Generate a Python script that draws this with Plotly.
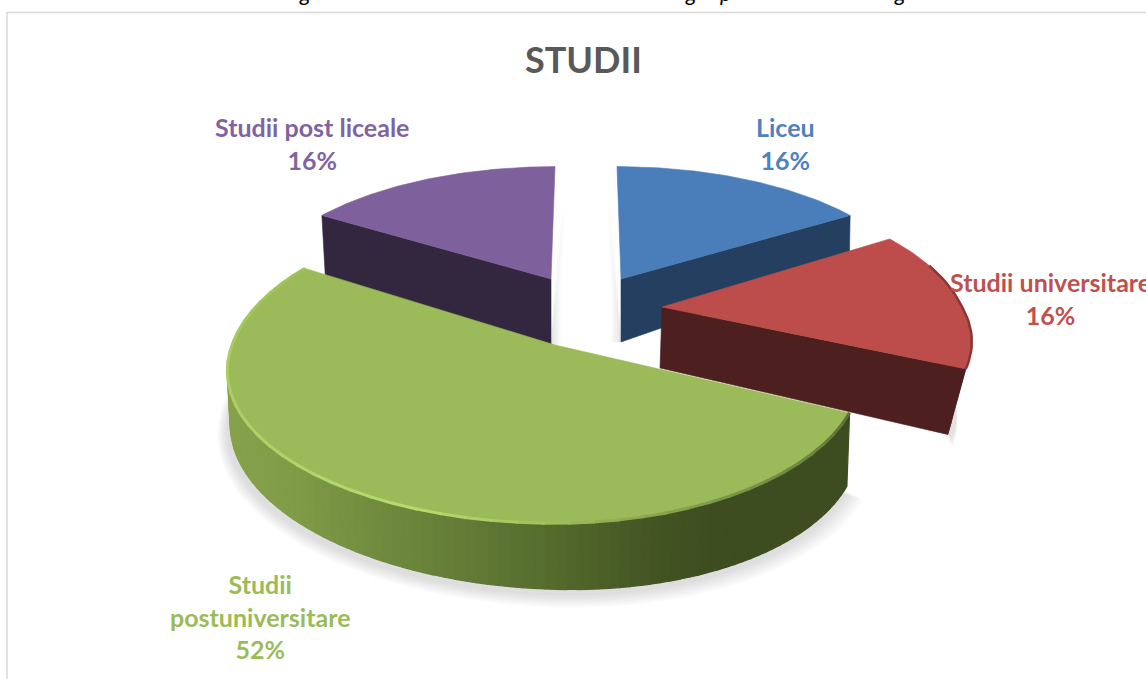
import math
import plotly.graph_objects as go

categories = ["Liceu", "Studii universitare", "Studii postuniversitare", "Studii post liceale"]
values = [16, 16, 52, 16]
title_text = "STUDII"
colors = ["#4a7eba", "#bd4d4a", "#9bba59", "#7e619c"]
text_colors = ["#4f81bd", "#c0504d", "#9bbb59", "#8064a2"]
wall_colors = ["#243f60", "#4d1f1f", "#3f5020", "#32273f"]
cropped_fragments = ["g", "g", "p", "g"]

W, H = 1146, 679
# per-slice projection: apex, half widths (right, left), depth (far, near), perspective,
# thickness terms, x-drift, lean of the far edge
geom = [
    dict(ax=621, ay=279, ar=293, al=293, bf=127, bn=127, q=0.13, h0=63, hu=-10, hv=-14, sx=-1, lean=-4),
    dict(ax=662, ay=307, ar=300, al=300, bf=144, bn=130, q=0.25, h0=61, hu=5, hv=0, sx=-20, lean=8),
    dict(ax=555, ay=345, ar=302, al=323, bf=156, bn=148, q=0.17, h0=63, hu=10, hv=-3, sx=-3, lean=0),
    dict(ax=551, ay=279, ar=293, al=293, bf=127, bn=127, q=0.13, h0=66, hu=2, hv=-8, sx=-4, lean=4),
]
label_pos = [(785, 128), (1050, 283), (260, 585), (312, 128)]
fragment_x = [305, 691, 726, 900]
green_stops = [(228, "#86a34c"), (300, "#7f9b47"), (380, "#708b3e"), (460, "#647c37"),
               (540, "#566e2e"), (600, "#4c6028"), (660, "#435423"), (720, "#3d4d20"), (850, "#3d4d20")]
bevel_stops = [(115, "#59703a"), (130, "#6a8340"), (150, "#7c9649"), (170, "#90ac54"),
               (185, "#a6c760"), (200, "#b7dc70"), (230, "#b0d468"), (270, "#a9cc60"), (302, "#9fc15b")]


def top(g, t):
    u, v = math.sin(t), math.cos(t)
    d = 1 + g["q"] * v
    a = g["ar"] if u >= 0 else g["al"]
    b = g["bf"] if v >= 0 else g["bn"]
    return g["ax"] + a * u / d + g["lean"] * max(v, 0), g["ay"] - b * v / d


def bottom(g, t):
    u, v = math.sin(t), math.cos(t)
    x, y = top(g, t)
    return x + g["sx"] * u, y + g["h0"] + g["hu"] * u + g["hv"] * v


def hex2(c):
    return [int(c[i:i + 2], 16) for i in (1, 3, 5)]


def grad(x, stops):
    if x <= stops[0][0]:
        return stops[0][1]
    for (x0, c0), (x1, c1) in zip(stops, stops[1:]):
        if x <= x1:
            f = (x - x0) / (x1 - x0)
            a, b = hex2(c0), hex2(c1)
            return "rgb(%d,%d,%d)" % tuple(a[i] + (b[i] - a[i]) * f for i in range(3))
    return stops[-1][1]


fig = go.Figure()


def poly(xs, ys, color, line=None, width=0.6):
    fig.add_trace(go.Scatter(x=xs, y=ys, mode="lines", fill="toself", fillcolor=color,
                             line=dict(color=line or color, width=width), hoverinfo="skip", showlegend=False))


def stroke(xs, ys, color, width):
    fig.add_trace(go.Scatter(x=xs, y=ys, mode="lines", line=dict(color=color, width=width),
                             hoverinfo="skip", showlegend=False))


angles = []
acc = 0
total = sum(values)
for val in values:
    angles.append((2 * math.pi * acc / total, 2 * math.pi * (acc + val) / total))
    acc += val


def arc(a0, a1, fn, g, n=60):
    pts = [fn(g, a0 + (a1 - a0) * i / n) for i in range(n + 1)]
    return [p[0] for p in pts], [p[1] for p in pts]


# soft shadows
CLEAR = "rgba(0,0,0,0)"
SHADE = "rgba(120,120,120,0.04)"
for i, (dx, dy, sizes) in {2: (-2, 4, [14, 12, 10, 8, 6, 4, 2]), 1: (4, 2, [12, 10, 8, 6, 4, 2]),
                          3: (3, 0, [10, 8, 6, 4, 2]), 0: (-3, 0, [10, 8, 6, 4, 2])}.items():
    g = geom[i]
    a0, a1 = angles[i]
    xs, ys = arc(a0, a1, bottom, g)
    ax_b, ay_b = g["ax"], g["ay"] + g["h0"]
    for s in sizes:
        sgn = 1 + s / 300
        if i == 0:
            far_x, far_y = top(g, 0)
            poly([ax_b, ax_b - s, g["ax"] - s, far_x - s, ax_b], [ay_b, ay_b, g["ay"], far_y + 30, ay_b], SHADE, CLEAR)
        elif i == 3:
            far_x, far_y = top(g, 2 * math.pi)
            poly([ax_b, ax_b + s, g["ax"] + s, far_x + s, ax_b], [ay_b, ay_b, g["ay"], far_y + 30, ay_b], SHADE, CLEAR)
        else:
            cx = sum(xs) / len(xs)
            cy = sum(ys) / len(ys)
            poly([cx + (x - cx) * sgn + dx for x in xs], [cy + (y - cy) * sgn + dy + s * 0.7 for y in ys], SHADE, CLEAR)

# draw order matches overlap in the picture: blue, purple, red, green
for i in (0, 3, 1, 2):
    g = geom[i]
    a0, a1 = angles[i]
    if i == 0:
        cx, cy = top(g, a1)
        bx, by = bottom(g, a1)
        poly([g["ax"], cx, bx, g["ax"], g["ax"]],
             [g["ay"], cy, by, g["ay"] + g["h0"], g["ay"]], wall_colors[i])
    elif i == 3:
        cx, cy = top(g, a0)
        bx, by = bottom(g, a0)
        poly([g["ax"], cx, bx, g["ax"], g["ax"]],
             [g["ay"], cy, by, g["ay"] + g["h0"], g["ay"]], wall_colors[i])
    elif i == 1:
        cx, cy = top(g, a1)
        bx, by = bottom(g, a1)
        xt, yt = arc(a0 + (a1 - a0) * 0.45, a1, top, g, 20)
        xb, yb = arc(a0 + (a1 - a0) * 0.45, a1, bottom, g, 20)
        poly(xt + xb[::-1], yt + yb[::-1], wall_colors[i])
        poly([g["ax"], cx, bx, g["ax"] - 2, g["ax"]],
             [g["ay"], cy, by, g["ay"] + g["h0"], g["ay"]], wall_colors[i])
    else:
        n = 110
        for k in range(n):
            t0 = a0 + (a1 - a0) * k / n
            t1 = a0 + (a1 - a0) * (k + 1) / n
            if t0 > math.radians(285):
                continue
            x0, y0 = top(g, t0)
            x1, y1 = top(g, t1)
            x2, y2 = bottom(g, t1)
            x3, y3 = bottom(g, t0)
            c = grad((x0 + x1) / 2, green_stops)
            poly([x0, x1, x2, x3, x0], [y0, y1, y2, y3, y0], c, width=1.2)

    xs, ys = arc(a0, a1, top, g)
    poly([g["ax"]] + xs + [g["ax"]], [g["ay"]] + ys + [g["ay"]], colors[i])

    if i == 1:
        xb, yb = arc(a0 + (a1 - a0) * 0.25, a1, top, g, 30)
        stroke(xb, yb, "#8a3634", 2.5)
    if i == 2:
        # bevel: colour follows the angle round the rim
        m = 48
        for k in range(m):
            t0 = a0 + (a1 - a0) * k / m
            t1 = a0 + (a1 - a0) * (k + 1) / m + 0.005
            xb, yb = arc(t0, min(t1, a1), top, g, 3)
            stroke(xb, yb, grad(math.degrees((t0 + t1) / 2), bevel_stops), 3)

annotations = []
for name, val, (lx, ly), col in zip(categories, values, label_pos, text_colors):
    if name == "Studii postuniversitare":
        txt = "Studii<br>postuniversitare<br>%d%%" % val
    else:
        txt = "%s<br>%d%%" % (name, val)
    annotations.append(dict(x=lx, y=ly - 18, xref="x", yref="y", text=txt, showarrow=False,
                            xanchor="center", yanchor="top", align="center",
                            font=dict(family="Lato", size=25, color=col, weight="bold")))
annotations.append(dict(x=583, y=59, xref="x", yref="y", text=title_text, showarrow=False,
                        xanchor="center", yanchor="middle",
                        font=dict(family="Lato", size=36, color="#595959", weight="bold")))
for frag, fx in zip(cropped_fragments, fragment_x):
    annotations.append(dict(x=fx, y=8, xref="x", yref="y", text=frag, showarrow=False,
                            xanchor="center", yanchor="bottom",
                            font=dict(family="Lato", size=22, color="black", style="italic")))

fig.update_layout(
    width=W, height=H, margin=dict(l=0, r=0, t=0, b=0), paper_bgcolor="white", plot_bgcolor="white",
    xaxis=dict(range=[0, W], visible=False, fixedrange=True),
    yaxis=dict(range=[H, 0], visible=False, fixedrange=True),
    showlegend=False, annotations=annotations,
    shapes=[
        dict(type="line", xref="x", yref="y", x0=7, x1=W, y0=12.5, y1=12.5, line=dict(color="#d9d9d9", width=1.5)),
        dict(type="line", xref="x", yref="y", x0=7, x1=7, y0=12, y1=H, line=dict(color="#d9d9d9", width=1.5)),
    ],
)
fig.write_html("out.html", config={"displayModeBar": False},
               post_script="document.body.style.margin='0';document.body.style.overflow='hidden';")
